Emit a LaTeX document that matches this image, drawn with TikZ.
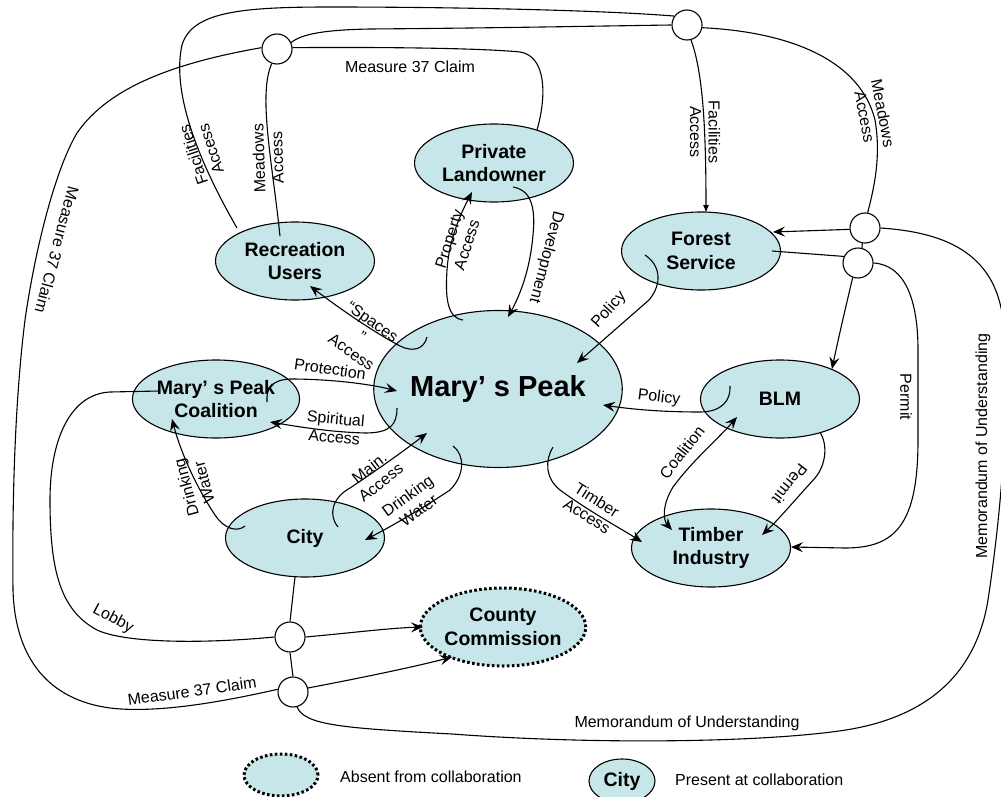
\documentclass[tikz,border=0pt]{standalone}
\usepackage{fontspec}
\setmainfont{Liberation Sans}
\usetikzlibrary{calc}
\usetikzlibrary{arrows.meta}
\usetikzlibrary{shapes.geometric}

\definecolor{actorfill}{RGB}{199,230,234}

\tikzset{
  actor/.style={ellipse, draw, line width=1.1pt, fill=actorfill, minimum width=159pt, minimum height=78pt, inner sep=0pt, align=center, font=\fontsize{19.5}{23.5}\selectfont\bfseries},
  absent/.style={actor, line width=3pt, dash pattern=on 2.6pt off 2.4pt},
  hub/.style={circle, draw, line width=1.1pt, fill=white, minimum size=30pt, inner sep=0pt},
  link/.style={line width=1.1pt},
  arr/.style={link, -{Stealth[length=12pt,width=10pt,inset=4.5pt]}},
  arrs/.style={link, {Stealth[length=12pt,width=10pt,inset=4.5pt]}-{Stealth[length=12pt,width=10pt,inset=4.5pt]}},
  lbl/.style={font=\fontsize{16}{18.5}\selectfont, align=center, inner sep=0pt}
}

\begin{document}
\begin{tikzpicture}[x=1pt, y=-1pt]
\useasboundingbox (0,0) rectangle (1001,797);

\node[actor, minimum width=229pt, minimum height=157pt, font=\fontsize{29}{34}\selectfont\bfseries] (mp) at (498,389) {Mary’ s Peak};
\node[actor] (pl) at (494,163) {Private\\Landowner};
\node[actor] (rec) at (295,261) {Recreation\\Users};
\node[actor] (fs) at (701,251) {Forest\\Service};
\node[actor] (coal) at (216,399) {Mary’ s Peak\\Coalition};
\node[actor] (blm) at (780,399) {BLM};
\node[actor] (city) at (305,538) {City};
\node[actor] (ti) at (711,548) {Timber\\Industry};
\node[absent] (cc) at (503,627) {County\\Commission};

\node[hub] (j1) at (277,49) {};
\node[hub] (j2) at (687,25) {};
\node[hub] (j3) at (865,228) {};
\node[hub] (j4) at (858,263) {};
\node[hub] (j5) at (290,637) {};
\node[hub] (j6) at (293,692) {};

\draw[link] ($(rec)+(-15,-25)$) .. controls (272,160) and (258,95) .. (j1.-110);
\draw[link] ($(rec)+(-58,-33)$) .. controls (195,155) and (172,90) .. (182,45) .. controls (192,12) and (240,7) .. (330,7) .. controls (450,7) and (600,10) .. (j2.145);
\draw[link] (j1.25) .. controls (300,36) and (315,30) .. (370,29) .. controls (500,28) and (600,26) .. (j2.west);
\draw[link] (j1.5) .. controls (380,47) and (480,48) .. (520,52) .. controls (546,56) and (547,95) .. ($(pl)+(43,-33)$);
\draw[link] (j1.175) .. controls (180,62) and (110,85) .. (77,133) .. controls (55,170) and (35,250) .. (25,320) .. controls (15,400) and (12,500) .. (13,590) .. controls (15,660) and (50,700) .. (110,708) .. controls (160,714) and (230,700) .. (j6.170);
\draw[link] ($(coal)+(-56,-8)$) -- (110,392) .. controls (70,394) and (50,440) .. (50,500) .. controls (50,570) and (60,610) .. (97,630) .. controls (125,643) and (200,644) .. (j5.west);
\draw[link] ($(city)+(-10,39)$) -- (j5.north);
\draw[link] (j5.south) -- (j6.north);
\draw[arr] (j5.east) .. controls (350,633) and (390,628) .. ($(cc)+(-80,0)$);
\draw[arr] (j6.15) .. controls (350,680) and (410,668) .. ($(cc)+(-51,30)$);
\draw[link] (j6.-75) .. controls (305,725) and (340,728) .. (452,734) .. controls (600,745) and (760,742) .. (839,731) .. controls (920,720) and (975,680) .. (988,600) .. controls (1000,520) and (1010,420) .. (1003,320) .. controls (995,250) and (940,232) .. (j3.east);

\draw[link, -{Latex[length=8pt,width=6pt]}] (j2.-75) .. controls (702,70) and (706,120) .. ($(fs)+(5,-38)$);
\draw[link] (j2.-10) .. controls (790,32) and (860,60) .. (875,120) .. controls (882,160) and (872,195) .. (j3.80);
\draw[arr] (j3.185) -- ($(fs)+(72,-19)$);
\draw[link] ($(fs)+(71,0)$) -- (j4.155);
\draw[link] (j3.-100) -- (j4.75);
\draw[arr] (j4.-110) .. controls (845,310) and (838,340) .. ($(blm)+(52,-30)$);
\draw[arr] (j4.0) .. controls (905,265) and (918,300) .. (918,350) -- (918,440) .. controls (918,525) and (895,548) .. (845,548) -- ($(ti)+(80,-1)$);

\draw[arr] ($(mp)+(-71,-52)$) .. controls (424,350) and (412,352) .. (400,346) .. controls (370,330) and (335,305) .. ($(rec)+(15,25)$);
\draw[arr] ($(mp)+(-35,-69)$) .. controls (448,318) and (445,300) .. (447,270) .. controls (449,240) and (460,215) .. ($(pl)+(-22,29)$);
\draw[arr] ($(pl)+(19,24)$) .. controls (530,190) and (536,205) .. (533,235) .. controls (530,270) and (520,295) .. ($(mp)+(10,-72)$);
\draw[arr] ($(fs)+(-56,4)$) .. controls (660,265) and (663,283) .. (649,300) -- ($(mp)+(79,-26)$);
\draw[arr] ($(blm)+(-50,-13)$) .. controls (731,400) and (722,412) .. (700,412) .. controls (660,412) and (630,409) .. ($(mp)+(105,16)$);
\draw[arr] ($(coal)+(51,3)$) .. controls (266,388) and (272,380) .. (290,379) .. controls (330,379) and (370,384) .. ($(mp)+(-101,2)$);
\draw[arr] ($(mp)+(-101,19)$) .. controls (397,425) and (390,433) .. (365,433) .. controls (330,432) and (300,427) .. ($(coal)+(54,23)$);
\draw[arr] ($(city)+(-60,-12)$) .. controls (238,532) and (225,530) .. (215,515) .. controls (195,485) and (180,450) .. ($(coal)+(-44,20)$);
\draw[arr] ($(city)+(33,-11)$) .. controls (328,515) and (332,498) .. (350,488) .. controls (380,468) and (405,450) .. ($(mp)+(-71,44)$);
\draw[arr] ($(mp)+(-45,57)$) .. controls (465,455) and (465,475) .. (450,490) .. controls (420,510) and (390,527) .. ($(city)+(60,2)$);
\draw[arr] ($(mp)+(55,58)$) .. controls (545,460) and (545,478) .. (560,490) .. controls (590,512) and (620,528) .. ($(ti)+(-69,-6)$);
\draw[arrs] ($(ti)+(-39,-18)$) .. controls (663,520) and (662,505) .. (673,487) .. controls (693,460) and (717,440) .. ($(blm)+(-43,18)$);
\draw[arr] ($(blm)+(40,33)$) .. controls (828,445) and (826,465) .. (815,478) .. controls (795,500) and (778,520) .. ($(ti)+(51,-13)$);

\node[lbl, rotate=92] (lmeadowsrec) at (268,158) {Meadows\\Access};
\node[lbl, rotate=108] (lfacilrec) at (202,152) {Facilities\\Access};
\node[lbl] (lclaimpl) at (410,67) {Measure 37 Claim};
\node[lbl, rotate=-105] (lclaimleft) at (57,250) {Measure 37 Claim};
\node[lbl, rotate=8] (lclaimcc) at (192,691) {Measure 37 Claim};
\node[lbl, rotate=-28] (llobby) at (113,619) {Lobby};
\node[lbl] (lmemobottom) at (687,723) {Memorandum of Understanding};
\node[lbl, rotate=90] (lmemoright) at (983,446) {Memorandum of Understanding};
\node[lbl, rotate=-90] (lfacilfs) at (705,132) {Facilities\\Access};
\node[lbl, rotate=-79] (lmeadowsfs) at (874,115) {Meadows\\Access};
\node[lbl, rotate=-90] (lpermitfs) at (906,397) {Permit};
\node[lbl, rotate=-35] (lspaces) at (362,337) {“Spaces\\”\\Access};
\node[lbl, rotate=72] (lproperty) at (458,242) {Property\\Access};
\node[lbl, rotate=-105] (ldevelop) at (546,257) {Development};
\node[lbl, rotate=48] (lpolicyfs) at (609,310) {Policy};
\node[lbl, rotate=-7] (lpolicyblm) at (659,398) {Policy};
\node[lbl, rotate=-8] (lprotect) at (330,369) {Protection};
\node[lbl, rotate=-5] (lspirit) at (335,428) {Spiritual\\Access};
\node[lbl, rotate=105] (ldrinkcoal) at (195,485) {Drinking\\Water};
\node[lbl, rotate=38] (lmain) at (375,475) {Main.\\Access};
\node[lbl, rotate=36] (ldrinkcity) at (413,503) {Drinking\\Water};
\node[lbl, rotate=-32] (ltimber) at (592,508) {Timber\\Access};
\node[lbl, rotate=52] (lcoalition) at (682,452) {Coalition};
\node[lbl, rotate=-128] (lpermitblm) at (790,484) {Permit};

\node[absent, minimum width=74pt, minimum height=42pt] (keyabsent) at (281,775) {};
\node[lbl, anchor=west] (keyabsenttext) at (340,777) {Absent from collaboration};
\node[actor, minimum width=66pt, minimum height=44pt] (keycity) at (622,781) {City};
\node[lbl, anchor=west] (keycitytext) at (675,780) {Present at collaboration};
\end{tikzpicture}
\end{document}
